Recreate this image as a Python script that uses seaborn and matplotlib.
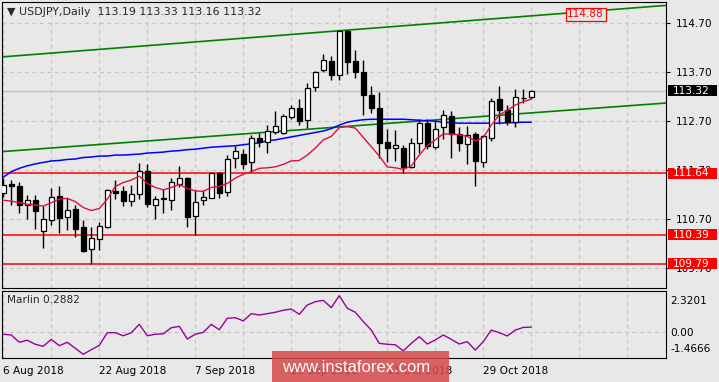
import numpy as np
import pandas as pd
import matplotlib
matplotlib.use('Agg')
import matplotlib.pyplot as plt
import matplotlib.transforms as mtransforms
from matplotlib.patches import Rectangle
import seaborn as sns

# --- data (one entry per bar) ---
date_labels = ['6 Aug 2018', '22 Aug 2018', '7 Sep 2018', '25 Sep 2018', '11 Oct 2018', '29 Oct 2018']
label_bars = [0, 12, 24, 36, 48, 60]

opens = [111.23, 111.42, 111.38, 111.00, 111.09, 110.47, 110.69, 111.18, 110.74, 110.91,
         110.54, 110.09, 110.29, 110.55, 111.28, 111.28, 111.07, 111.21, 111.69, 110.99,
         111.13, 111.09, 111.43, 111.54, 110.76, 111.09, 111.13, 111.64, 111.26, 111.94,
         112.03, 111.86, 112.35, 112.28, 112.48, 112.46, 112.79, 112.97, 112.72, 113.39,
         113.74, 113.93, 113.65, 114.53, 113.93, 113.71, 113.24, 112.97, 112.28, 112.15,
         112.15, 111.76, 112.25, 112.66, 112.18, 112.59, 112.81, 112.44, 112.23, 112.44,
         111.86, 112.35, 113.15, 112.93, 112.69, 113.17, 113.19]
highs = [111.55, 111.50, 111.47, 111.20, 111.20, 110.97, 111.34, 111.37, 111.13, 110.99,
         110.69, 110.55, 110.65, 111.31, 111.50, 111.37, 111.39, 111.84, 111.83, 111.18,
         111.31, 111.55, 111.79, 111.56, 111.30, 111.30, 111.66, 111.67, 112.01, 112.20,
         112.13, 112.42, 112.46, 112.62, 112.90, 112.85, 113.03, 113.15, 113.48, 113.72,
         114.07, 114.03, 114.56, 114.56, 114.15, 113.95, 113.41, 113.30, 112.54, 112.52,
         112.22, 112.35, 112.74, 112.74, 112.73, 112.92, 112.90, 112.59, 112.60, 112.47,
         112.41, 113.17, 113.41, 113.03, 113.35, 113.35, 113.33]
lows = [111.16, 110.99, 110.83, 110.70, 110.50, 110.12, 110.58, 110.43, 110.48, 110.33,
        110.03, 109.79, 110.07, 110.52, 111.11, 110.97, 110.97, 111.11, 110.95, 110.70,
        110.83, 110.89, 111.35, 110.54, 110.39, 110.99, 111.13, 111.13, 111.18, 111.75,
        111.73, 111.67, 112.17, 112.05, 112.43, 112.43, 112.75, 112.62, 112.57, 113.32,
        113.70, 113.54, 113.54, 113.66, 113.58, 112.83, 112.86, 111.95, 111.87, 111.88,
        111.65, 111.74, 112.05, 112.14, 112.14, 112.34, 111.94, 112.10, 111.82, 111.38,
        111.77, 112.30, 112.64, 112.62, 112.58, 113.08, 113.16]
closes = [111.40, 111.37, 110.99, 111.09, 110.86, 110.70, 111.15, 110.73, 110.90, 110.51,
          110.06, 110.32, 110.56, 111.29, 111.24, 111.08, 111.21, 111.69, 111.01, 111.11,
          111.11, 111.46, 111.54, 110.75, 111.06, 111.15, 111.64, 111.24, 111.92, 112.09,
          111.83, 112.35, 112.27, 112.50, 112.60, 112.81, 112.97, 112.71, 113.37, 113.70,
          113.94, 113.65, 114.54, 113.90, 113.70, 113.24, 112.97, 112.25, 112.16, 112.21,
          111.76, 112.25, 112.66, 112.20, 112.54, 112.83, 112.44, 112.25, 112.42, 111.88,
          112.39, 113.12, 112.92, 112.69, 113.19, 113.18, 113.32]

ma_fast = [111.09, 111.07, 111.04, 111.01, 110.99, 110.97, 111.04, 111.11, 111.13, 111.06,
           110.94, 110.88, 110.92, 111.11, 111.37, 111.45, 111.50, 111.58, 111.43, 111.35,
           111.30, 111.35, 111.41, 111.33, 111.28, 111.27, 111.35, 111.37, 111.43, 111.54,
           111.62, 111.67, 111.74, 111.75, 111.77, 111.82, 111.89, 111.90, 112.01, 112.15,
           112.32, 112.39, 112.57, 112.59, 112.56, 112.37, 112.18, 111.99, 111.77, 111.75,
           111.72, 111.79, 112.01, 112.20, 112.32, 112.44, 112.44, 112.42, 112.39, 112.30,
           112.37, 112.62, 112.83, 112.92, 113.03, 113.10, 113.15]
ma_slow = [111.56, 111.67, 111.74, 111.79, 111.83, 111.86, 111.89, 111.90, 111.92, 111.93,
           111.96, 111.97, 111.99, 111.99, 112.01, 112.01, 112.02, 112.03, 112.05, 112.06,
           112.07, 112.09, 112.10, 112.12, 112.13, 112.15, 112.17, 112.18, 112.19, 112.20,
           112.22, 112.24, 112.26, 112.30, 112.32, 112.35, 112.38, 112.41, 112.44, 112.47,
           112.50, 112.55, 112.62, 112.68, 112.71, 112.73, 112.74, 112.74, 112.74, 112.74,
           112.74, 112.73, 112.72, 112.71, 112.70, 112.68, 112.67, 112.66, 112.66, 112.66,
           112.66, 112.66, 112.66, 112.67, 112.67, 112.68, 112.68]

marlin = [-0.17, -0.22, -0.69, -0.56, -0.82, -0.95, -0.50, -0.91, -0.69, -1.08,
          -1.4666, -1.17, -0.89, -0.07, -0.07, -0.27, -0.07, 0.47, -0.27, -0.17,
          -0.14, 0.25, 0.34, -0.48, -0.17, -0.05, 0.47, 0.12, 0.86, 0.90,
          0.69, 1.16, 1.07, 1.16, 1.25, 1.38, 1.46, 1.12, 1.72, 1.93,
          2.02, 1.55, 2.3201, 1.51, 1.25, 0.65, 0.10, -0.76, -0.82, -0.85,
          -1.24, -0.76, -0.33, -0.80, -0.54, -0.22, -0.50, -0.80, -0.65, -1.19,
          -0.65, 0.10, -0.07, -0.28, 0.10, 0.27, 0.2882]

# trend channel anchors (bar, price)
trend_bars = [-0.2, 82.8]
upper_trend = [114.01, 115.06]
lower_trend = [112.08, 113.07]
trend_label = 114.88

levels = [111.64, 110.39, 109.79]
last_price = 113.32
price_ticks = [109.70, 110.70, 111.70, 112.70, 113.70, 114.70]
marlin_ticks = [2.3201, 0.0, -1.4666]

BG = '#e8e8e8'
GRID = '#c4c4c4'

sns.set_style('white', rc={'axes.facecolor': BG, 'figure.facecolor': BG,
                           'axes.edgecolor': 'black', 'axes.linewidth': 1.0})
plt.rcParams['font.family'] = ['DejaVu Sans']

df = pd.DataFrame({'bar': np.arange(len(closes)), 'open': opens, 'high': highs,
                   'low': lows, 'close': closes, 'fast': ma_fast, 'slow': ma_slow,
                   'marlin': marlin})

W, H = 719, 382
fig = plt.figure(figsize=(W / 100, H / 100), dpi=100)
ax = fig.add_axes([2 / W, 1 - 288 / H, 664 / W, 286 / H])
ax2 = fig.add_axes([2 / W, 1 - 358 / H, 664 / W, 67 / H])

xlim = (-0.16, 82.84)
grid_bars = np.arange(0, 84, 6)

# --- main price panel ---
ax.set_xlim(*xlim)
ax.set_ylim(109.30, 115.13)
for p in price_ticks:
    ax.axhline(p, color=GRID, lw=0.9, ls=(0, (3, 3)), zorder=0)
for b in grid_bars:
    ax.axvline(b, color=GRID, lw=0.9, ls=(0, (3, 3)), zorder=0)
ax.axhline(last_price, color='#c0c0c0', lw=1, zorder=1)
for lv in levels:
    ax.axhline(lv, color='#ff0000', lw=1.1, zorder=2)

ax.plot(trend_bars, upper_trend, color='#008000', lw=1.2, zorder=2)
ax.plot(trend_bars, lower_trend, color='#008000', lw=1.2, zorder=2)

sns.lineplot(data=df, x='bar', y='slow', ax=ax, color='#0000ff', lw=1.1, zorder=2)
sns.lineplot(data=df, x='bar', y='fast', ax=ax, color='#e0103c', lw=1.0, zorder=5)

up = df['close'] >= df['open']
body_lo = np.minimum(df['open'], df['close'])
body_h = np.maximum((df['close'] - df['open']).abs(), 0.012)
ax.vlines(df['bar'], df['low'], df['high'], color='black', lw=1, zorder=3)
ax.bar(df['bar'], body_h, bottom=body_lo, width=0.62,
       color=np.where(up, 'white', 'black'), edgecolor='black', lw=0.9, zorder=4)

ax.set_xlabel('')
ax.set_ylabel('')
ax.set_xticks(grid_bars)
ax.tick_params(axis='x', length=0, labelbottom=False)
ax.yaxis.tick_right()
ax.set_yticks(price_ticks)
ax.set_yticklabels([f'{p:.2f}' for p in price_ticks])
ax.tick_params(axis='y', direction='out', length=3, pad=4, labelsize=7.6, colors='black')

ax.text(0.008, 0.965, '\u25bc USDJPY,Daily  113.19 113.33 113.16 113.32',
        transform=ax.transAxes, fontsize=7.9, va='center', ha='left', zorder=10)

# price tags on the right scale
yt = mtransforms.blended_transform_factory(ax.transAxes, ax.transData)
tag_h = 11 / 49.0
tags = [(lv, '#ff0000') for lv in levels] + [(last_price, 'black')]
for lv, col in tags:
    ax.add_patch(Rectangle((1.0026, lv - tag_h / 2), 0.0738, tag_h, transform=yt,
                           fc=col, ec='none', clip_on=False, zorder=11))
    ax.text(1.0105, lv, f'{lv:.2f}', transform=yt, color='white', fontsize=7.6,
            va='center', ha='left', zorder=12, clip_on=False)
ax.text(70.5, trend_label, f'{trend_label:.2f}', color='#ff0000', fontsize=7.6,
        va='center', ha='left', zorder=12,
        bbox=dict(boxstyle='square,pad=0.15', fc=BG, ec='#ff0000', lw=0.9))

# --- Marlin panel ---
ax2.set_xlim(*xlim)
ax2.set_ylim(-1.706, 2.624)
for b in grid_bars:
    ax2.axvline(b, color=GRID, lw=0.9, ls=(0, (3, 3)), zorder=0)
ax2.axhline(0, color=GRID, lw=0.9, ls=(0, (3, 3)), zorder=0)
sns.lineplot(data=df, x='bar', y='marlin', ax=ax2, color='#9a009a', lw=1.0, zorder=3)
ax2.set_xlabel('')
ax2.set_ylabel('')
ax2.text(0.008, 0.86, 'Marlin 0.2882', transform=ax2.transAxes, fontsize=7.6,
         va='center', ha='left')

ax2.yaxis.tick_right()
ax2.set_yticks(marlin_ticks)
ax2.set_yticklabels(['2.3201', '0.00', '-1.4666'])
ax2.tick_params(axis='y', direction='out', length=0, pad=3, labelsize=7.6, colors='black')
lbls = ax2.get_yticklabels()
lbls[0].set_va('top')
lbls[2].set_va('bottom')

ax2.set_xticks(label_bars)
ax2.set_xticklabels(date_labels, ha='left')
ax2.tick_params(axis='x', direction='out', length=4, pad=2, labelsize=7.6, colors='black')

# --- watermark strip ---
fig.add_artist(Rectangle((272 / W, 0), 177 / W, 31 / H, transform=fig.transFigure,
                         fc='#d64a4a', ec='none', alpha=0.85, zorder=20))
fig.text(356 / W, 1 - 367 / H, 'www.instaforex.com', color='white', fontsize=12,
         family=['Liberation Sans', 'DejaVu Sans'], ha='center', va='center', zorder=21)

fig.savefig('out.png', dpi=100, facecolor=BG)
